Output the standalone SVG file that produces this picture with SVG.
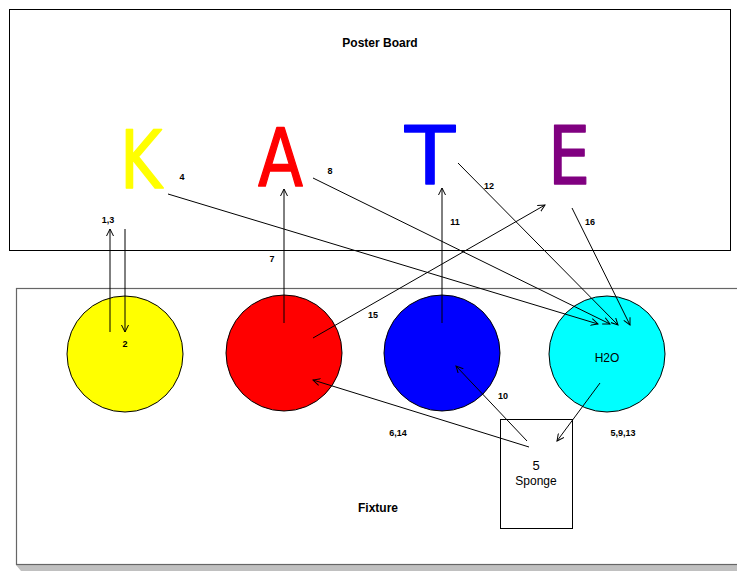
<svg xmlns="http://www.w3.org/2000/svg" width="737" height="571" viewBox="0 0 737 571">
<defs>
<style>
.lbl{font-family:"Liberation Sans",Arial,sans-serif;font-size:9px;font-weight:bold;fill:#000;text-anchor:middle}
.title{font-family:"Liberation Sans",Arial,sans-serif;font-size:12px;font-weight:bold;fill:#000;text-anchor:middle}
.txt{font-family:"Liberation Sans",Arial,sans-serif;font-size:12px;fill:#000;text-anchor:middle}
.letter{font-family:"DejaVu Sans",sans-serif;font-size:80px;stroke-width:1.5;stroke-linejoin:round;stroke-linecap:round}
.conn{stroke:#000;stroke-width:1;fill:none;marker-end:url(#arr)}
.circ{stroke:#000;stroke-width:1}
</style>
<marker id="arr" viewBox="0 0 8 8" refX="7" refY="4" markerWidth="8" markerHeight="8" orient="auto" markerUnits="userSpaceOnUse">
<path d="M0,0.5 L7,4 L0,7.5" fill="none" stroke="#000" stroke-width="1"/>
</marker>
</defs>
<rect width="737" height="571" fill="#fff"/>
<g id="poster-board">
<rect x="9.5" y="9.5" width="721" height="241" fill="#fff" stroke="#000" stroke-width="1"/>
<text class="title" x="380" y="47">Poster Board</text>
</g>
<g id="fixture">
<polygon points="16,565 737,565 737,571 21,571" fill="#c0c0c0"/>
<rect x="16.5" y="288.5" width="730" height="276" fill="#fff" stroke="#666" stroke-width="1.2"/>
<text class="title" x="378" y="512">Fixture</text>
</g>
<g id="letter-K"><text class="letter" x="120" y="188" fill="#ffff00" stroke="#ffff00" textLength="42" lengthAdjust="spacingAndGlyphs">K</text></g>
<g id="letter-A"><text class="letter" x="258" y="186" fill="#ff0000" stroke="#ff0000" textLength="45" lengthAdjust="spacingAndGlyphs">A</text></g>
<g id="letter-T"><text class="letter" x="405" y="184" fill="#0000ff" stroke="#0000ff" textLength="50" lengthAdjust="spacingAndGlyphs">T</text></g>
<g id="letter-E"><text class="letter" x="548" y="184" fill="#800080" stroke="#800080" textLength="42" lengthAdjust="spacingAndGlyphs">E</text></g>
<g id="yellow"><circle class="circ" cx="125" cy="354" r="58" fill="#ffff00"/></g>
<g id="red"><circle class="circ" cx="284" cy="353" r="58" fill="#ff0000"/></g>
<g id="blue"><circle class="circ" cx="442" cy="353" r="58" fill="#0000ff"/></g>
<g id="h2o"><circle class="circ" cx="607" cy="354" r="58" fill="#00ffff"/><text class="txt" x="607" y="362">H2O</text></g>
<g id="sponge">
<rect x="500.5" y="419.5" width="72" height="109" fill="#fff" stroke="#000" stroke-width="1"/>
<text class="txt" x="536" y="470" style="font-size:13px">5</text>
<text class="txt" x="536" y="485">Sponge</text>
</g>
<g id="connectors">
<line class="conn" x1="110" y1="332" x2="110" y2="229"/>
<line class="conn" x1="125" y1="229" x2="125" y2="332"/>
<line class="conn" x1="168" y1="194" x2="598" y2="324"/>
<line class="conn" x1="284" y1="323" x2="284" y2="189"/>
<line class="conn" x1="313" y1="178" x2="610" y2="324"/>
<line class="conn" x1="442" y1="323" x2="442" y2="188"/>
<line class="conn" x1="458" y1="163" x2="618" y2="325"/>
<line class="conn" x1="572" y1="208" x2="630" y2="325"/>
<line class="conn" x1="313" y1="338" x2="545" y2="205"/>
<line class="conn" x1="529" y1="447" x2="313" y2="380"/>
<line class="conn" x1="527" y1="441" x2="456" y2="366"/>
<line class="conn" x1="600" y1="383" x2="557" y2="441"/>
</g>
<g id="labels">
<text class="lbl" x="108" y="223">1,3</text>
<text class="lbl" x="125" y="347">2</text>
<text class="lbl" x="182" y="180">4</text>
<text class="lbl" x="272" y="262">7</text>
<text class="lbl" x="330" y="174">8</text>
<text class="lbl" x="455" y="225">11</text>
<text class="lbl" x="489" y="189">12</text>
<text class="lbl" x="590" y="225">16</text>
<text class="lbl" x="373" y="318">15</text>
<text class="lbl" x="398" y="436">6,14</text>
<text class="lbl" x="503" y="399">10</text>
<text class="lbl" x="623" y="436">5,9,13</text>
</g>
</svg>
